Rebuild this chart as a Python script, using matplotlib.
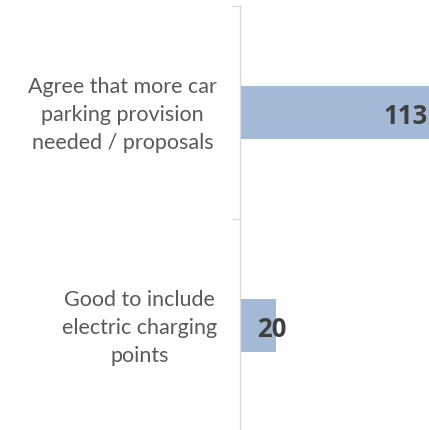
import matplotlib
matplotlib.use("Agg")
import matplotlib.pyplot as plt

# chart data
categories = ["Agree that more car\nparking provision\nneeded / proposals",
              "Good to include\nelectric charging\npoints"]
counts = [113, 20]

bar_color = "#A4B9D5"
axis_color = "#D9D9D9"
text_color = "#595959"
label_color = "#404040"

plt.rcParams['font.family'] = ['Lato', 'DejaVu Sans']

fig = plt.figure(figsize=(4.29, 4.31), dpi=100)
# plot area runs past the right and bottom edges, like the cropped original
ax = fig.add_axes([240 / 429, -2 / 431, 216 / 429, 426 / 431])

pos = list(range(len(categories)))
ax.barh(pos, counts, height=0.25, color=bar_color, zorder=2)
ax.set_xlim(0, 120)
ax.set_ylim(len(categories) - 0.5, -0.5)

# category boundaries get the tick marks, labels sit at the centres
ax.set_yticks([p - 0.5 for p in pos] + [pos[-1] + 0.5])
ax.set_yticklabels([])
ax.tick_params(axis='y', which='major', length=5.8, width=1.0, color=axis_color)
ax.set_xticks([])

for p, cat in zip(pos, categories):
    ax.annotate(cat, (0, p), xycoords=ax.get_yaxis_transform(),
                xytext=(-16.5, -1), textcoords='offset points',
                ha='right', va='center', multialignment='center',
                linespacing=1.5, fontsize=15.5, color=text_color)

for side in ['top', 'right', 'bottom']:
    ax.spines[side].set_visible(False)
ax.spines['left'].set_color(axis_color)
ax.spines['left'].set_linewidth(1.0)

for p, v in zip(pos, counts):
    if v > 50:
        ax.annotate(str(v), (v, p), xytext=(-11, -2), textcoords='offset points',
                    ha='right', va='center', fontsize=18.5, fontweight='bold',
                    family='Open Sans', color=label_color)
    else:
        ax.annotate(str(v), (v, p), xytext=(-3, -2.5), textcoords='offset points',
                    ha='center', va='center', fontsize=18.5, fontweight='bold',
                    family='Open Sans', color=label_color)

fig.savefig("out.png", dpi=100)
